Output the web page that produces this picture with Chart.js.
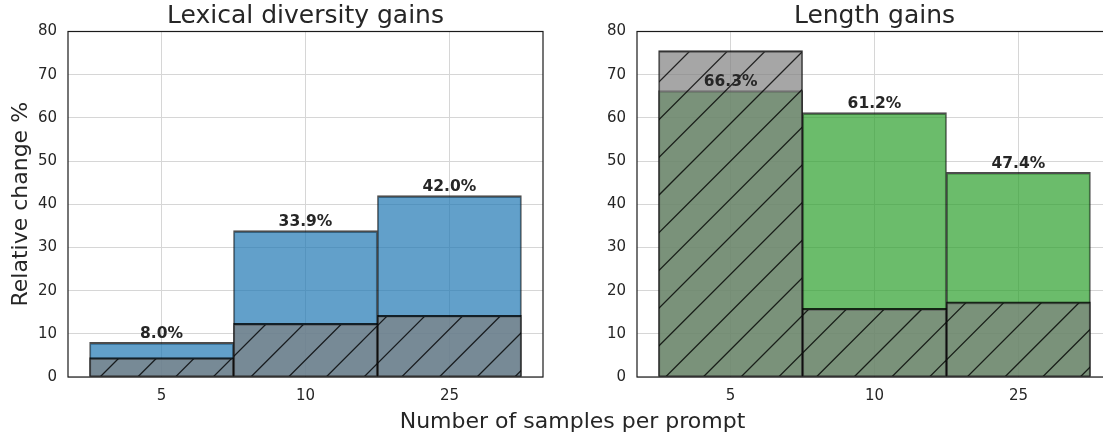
<!DOCTYPE html>
<html>
<head>
<meta charset="utf-8">
<script src="https://cdn.jsdelivr.net/npm/chart.js@4.4.0/dist/chart.umd.min.js"></script>
<style>
html, body { margin: 0; padding: 0; background: #fff; width: 1103px; height: 438px; overflow: hidden; position: relative; }
canvas { position: absolute; top: 0; }
#xlabel { position: absolute; left: 272.5px; width: 600px; top: 410px; line-height: 22px; text-align: center;
  font-family: "DejaVu Sans"; font-size: 22px; color: #262626; }
</style>
</head>
<body>
<canvas id="lex" width="611" height="410" style="left:0px"></canvas>
<canvas id="len" width="611" height="410" style="left:569px"></canvas>
<div id="xlabel">Number of samples per prompt</div>
<script>
// samples per prompt
var categories = ["5", "10", "25"];
var yTicks = [0, 10, 20, 30, 40, 50, 60, 70, 80];

// lexical diversity: gain (blue) and hatched baseline
var lexicalGain = [8.0, 33.9, 42.0];
var lexicalBase = [4.5, 12.4, 14.3];

// length: gain (green) and hatched baseline
var lengthGain = [66.3, 61.2, 47.4];
var lengthBase = [75.6, 15.9, 17.4];

Chart.defaults.font.family = "DejaVu Sans";
Chart.defaults.color = "#262626";

// diagonal "/" hatch over grey, tile = 10 periods so it wraps cleanly
function hatch(ctx, phase) {
  var P = 37.7, T = 377;
  var c = document.createElement('canvas');
  c.width = T; c.height = T;
  var g = c.getContext('2d');
  g.fillStyle = 'rgba(128,128,128,0.7)';
  g.fillRect(0, 0, T, T);
  g.strokeStyle = 'rgba(0,0,0,0.8)';
  g.lineWidth = 1.3;
  for (var k = -1; k <= 21; k++) {
    var s = phase + k * P;
    g.beginPath();
    g.moveTo(s + 20, -20);
    g.lineTo(-20, s + 20);
    g.stroke();
  }
  return ctx.createPattern(c, 'repeat');
}

function toPoints(arr) {
  return arr.map(function (v, i) { return { x: i, y: v }; });
}

var extras = {
  id: 'extras',
  afterDatasetsDraw: function (chart) {
    var a = chart.chartArea, ctx = chart.ctx;
    ctx.save();
    // spines
    ctx.strokeStyle = '#1a1a1a';
    ctx.lineWidth = 1.2;
    ctx.strokeRect(a.left, a.top, a.right - a.left, a.bottom - a.top);
    // value labels on the coloured bars
    var meta = chart.getDatasetMeta(0);
    var vals = chart.data.datasets[0].data;
    ctx.fillStyle = '#262626';
    ctx.font = 'bold 15.5px "DejaVu Sans"';
    ctx.textAlign = 'center';
    ctx.textBaseline = 'alphabetic';
    meta.data.forEach(function (bar, i) {
      ctx.fillText(vals[i].y.toFixed(1) + '%', bar.x, bar.y - 4.5);
    });
    // panel title
    ctx.font = '25px "DejaVu Sans"';
    ctx.fillText(chart.options.plugins.extras.title, (a.left + a.right) / 2, 23.2);
    ctx.restore();
  }
};

function makeChart(id, title, gain, base, color, phase, yTitle) {
  var ctx = document.getElementById(id).getContext('2d');
  return new Chart(ctx, {
    type: 'bar',
    data: {
      datasets: [{
        label: 'gain',
        data: toPoints(gain),
        backgroundColor: color,
        borderColor: 'rgba(0,0,0,0.7)',
        borderWidth: { top: 2, bottom: 1, left: 1.2, right: 1.2 },
        order: 2
      }, {
        label: 'base',
        data: toPoints(base),
        backgroundColor: hatch(ctx, phase),
        borderColor: 'rgba(0,0,0,0.8)',
        borderWidth: { top: 2, bottom: 1, left: 1.2, right: 1.2 },
        order: 1
      }]
    },
    options: {
      responsive: false,
      animation: false,
      layout: { padding: { top: 31.5, right: 68, left: 0, bottom: 0 } },
      datasets: { bar: { grouped: false, barPercentage: 1, categoryPercentage: 1, borderSkipped: false } },
      plugins: { legend: { display: false }, tooltip: { enabled: false }, extras: { title: title } },
      scales: {
        x: {
          type: 'linear', min: -0.65, max: 2.65, offset: false,
          afterBuildTicks: function (s) { s.ticks = categories.map(function (c, i) { return { value: i }; }); },
          afterFit: function (s) { s.height = 33; },
          ticks: { callback: function (v) { return categories[v]; }, font: { size: 15 }, color: '#262626', padding: 10 },
          grid: { color: '#d6d6d6', lineWidth: 1, drawTicks: false, offset: false },
          border: { display: false }
        },
        y: {
          min: 0, max: 80,
          afterBuildTicks: function (s) { s.ticks = yTicks.map(function (v) { return { value: v }; }); },
          afterFit: function (s) { s.width = 68; },
          ticks: { font: { size: 15 }, color: '#262626', padding: 11 },
          grid: { color: '#d6d6d6', lineWidth: 1, drawTicks: false },
          border: { display: false },
          title: { display: !!yTitle, text: yTitle || '', font: { size: 22 }, color: '#262626', padding: { top: 8, bottom: 0 } }
        }
      }
    },
    plugins: [extras]
  });
}

makeChart('lex', 'Lexical diversity gains', lexicalGain, lexicalBase, 'rgba(31,119,180,0.7)', 24.6, 'Relative change %');
makeChart('len', 'Length gains', lengthGain, lengthBase, 'rgba(44,160,44,0.7)', 21.1, null);
</script>
</body>
</html>
